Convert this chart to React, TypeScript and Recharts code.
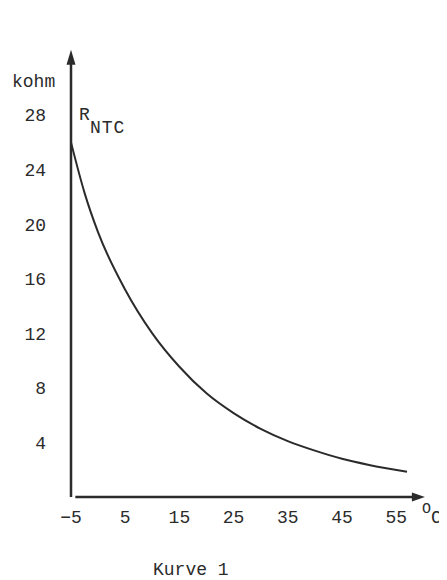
import React from "react";
import { LineChart, Line, XAxis, YAxis, ReferenceLine } from "recharts";

const temperatures = [-5, -2.5, 0, 5, 10, 15, 20, 25, 30, 35, 40, 45, 50, 57];
const resistance = [26.0, 22.3, 19.4, 15.2, 12.0, 9.55, 7.6, 6.15, 5.0, 4.1, 3.4, 2.8, 2.35, 1.85];
const xTicks = [-5, 5, 15, 25, 35, 45, 55];
const yTicks = [4, 8, 12, 16, 20, 24, 28];

const data = temperatures.map((t, i) => ({ t, r: resistance[i] }));

const FONT = "'Liberation Mono', 'DejaVu Sans Mono', monospace";
const INK = "#2b2b2b";

const ArrowUp = (p: any) => {
  const { x1, y1, y2 } = p;
  const top = Math.min(y1, y2);
  const bot = Math.max(y1, y2);
  return (
    <g>
      <line x1={x1} y1={bot} x2={x1} y2={top + 10} stroke={INK} strokeWidth={2.5} />
      <polygon points={`${x1},${top} ${x1 - 4.5},${top + 15} ${x1 + 4.5},${top + 15}`} fill={INK} />
    </g>
  );
};

const ArrowRight = (p: any) => {
  const { x1, y1, x2 } = p;
  const left = Math.min(x1, x2);
  const right = Math.max(x1, x2);
  return (
    <g>
      <line x1={left} y1={y1} x2={right - 8} y2={y1} stroke={INK} strokeWidth={2.5} />
      <polygon points={`${right},${y1} ${right - 13},${y1 - 4.5} ${right - 13},${y1 + 4.5}`} fill={INK} />
    </g>
  );
};

export default function App() {
  return (
    <div style={{ position: "relative", width: 439, height: 572 }}>
      <LineChart
        width={439}
        height={572}
        data={data}
        margin={{ top: 38.9, right: 18.3, bottom: 53, left: 0 }}
      >
        <XAxis
          dataKey="t"
          type="number"
          domain={[-5, 61]}
          ticks={xTicks}
          axisLine={false}
          tickLine={false}
          tickSize={0}
          tickMargin={13}
          height={30}
          interval={0}
          tick={{ fill: INK, fontFamily: FONT, fontSize: 18 }}
          tickFormatter={(v: number) => (v < 0 ? "\u2212" + Math.abs(v) : String(v))}
        />
        <YAxis
          type="number"
          domain={[0, 33]}
          ticks={yTicks}
          axisLine={false}
          tickLine={false}
          tickSize={0}
          tickMargin={25}
          width={63}
          interval={0}
          tick={{ fill: INK, fontFamily: FONT, fontSize: 18 }}
        />
        <ReferenceLine
          segment={[{ x: -5, y: 0 }, { x: -5, y: 32.8 }]}
          ifOverflow="visible"
          shape={ArrowUp}
        />
        <ReferenceLine
          segment={[{ x: -4.2, y: 0 }, { x: 60.3, y: 0 }]}
          ifOverflow="visible"
          shape={ArrowRight}
        />
        <Line
          dataKey="r"
          type="monotone"
          stroke={INK}
          strokeWidth={2}
          dot={false}
          isAnimationActive={false}
        />
      </LineChart>
      <svg
        width={439}
        height={572}
        style={{ position: "absolute", left: 0, top: 0, pointerEvents: "none" }}
      >
        <text x={4} y={79} fontFamily={FONT} fontSize={18} fill={INK}>kohm</text>
        <text x={71} y={112} fontFamily={FONT} fontSize={18} fill={INK}>R</text>
        <text x={82} y={125} fontFamily={FONT} fontSize={18} fill={INK} letterSpacing={1}>NTC</text>
        <text x={414} y={505} fontFamily={FONT} fill={INK}>
          <tspan fontSize={15}>O</tspan>
          <tspan fontSize={18} dy={10}>C</tspan>
        </text>
        <text x={145} y={567} fontFamily={FONT} fontSize={18} fill={INK}>Kurve 1</text>
      </svg>
    </div>
  );
}
